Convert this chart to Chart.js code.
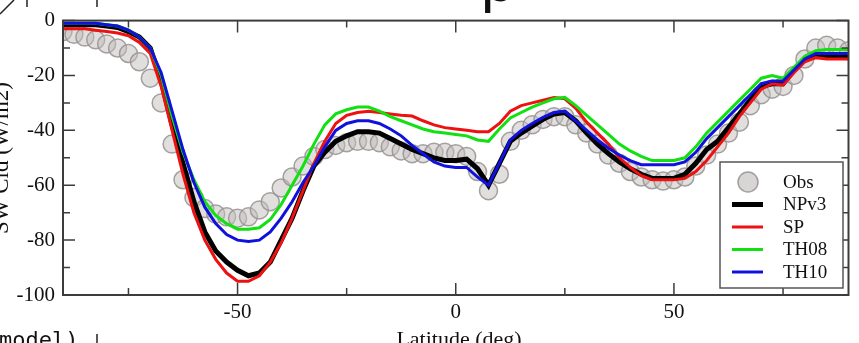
<!DOCTYPE html>
<html>
<head>
<meta charset="utf-8">
<style>
  html, body { margin: 0; padding: 0; background: #fff; }
  #wrap { position: relative; width: 859px; height: 343px; }
</style>
<script src="https://cdn.jsdelivr.net/npm/chart.js@4.4.0/dist/chart.umd.min.js"></script>
</head>
<body>
<div id="wrap"><canvas id="c" width="859" height="343"></canvas></div>
<script>
// latitudes (deg), 2.5 deg steps
const lat = [-90, -87.5, -85, -82.5, -80, -77.5, -75, -72.5, -70, -67.5, -65, -62.5, -60, -57.5, -55, -52.5,
  -50, -47.5, -45, -42.5, -40, -37.5, -35, -32.5, -30, -27.5, -25, -22.5, -20, -17.5, -15, -12.5,
  -10, -7.5, -5, -2.5, 0, 2.5, 5, 7.5, 10, 12.5, 15, 17.5, 20, 22.5, 25, 27.5,
  30, 32.5, 35, 37.5, 40, 42.5, 45, 47.5, 50, 52.5, 55, 57.5, 60, 62.5, 65, 67.5,
  70, 72.5, 75, 77.5, 80, 82.5, 85, 87.5, 90];

// SW cloud forcing (W/m2)
const obs = [-4, -5, -6, -7, -8.5, -10, -12, -15, -21, -30, -45, -58, -64.5, -68.5, -70.5, -71.5,
  -72, -71.5, -69, -66, -61, -57, -53, -49.5, -47, -45.5, -44.5, -44, -44, -44.5, -46, -47.5,
  -48.5, -48.5, -48, -48, -48.5, -49.5, -55, -62, -56, -44, -40, -38, -36, -35, -35, -38,
  -41, -45, -49, -52, -55, -57, -58, -58.5, -58, -57, -53, -49, -45, -41, -37, -31,
  -27, -25, -24, -20, -14, -10, -9, -10, -11];

const npv3 = [-1.5, -1.5, -1.5, -1.5, -2, -2.5, -4, -6, -10, -22, -38, -52, -66, -77, -84, -88,
  -91, -93, -92, -88, -80, -72, -62, -53, -48, -44, -42, -40.5, -40.5, -41, -43, -45,
  -47, -48.5, -50, -51, -51, -50.5, -54, -60, -52, -44, -41, -38.5, -36, -34, -33.5, -36.5,
  -41, -45, -48.5, -51.5, -54, -56, -57.5, -57.5, -57.5, -56, -52, -47, -44, -39, -34, -29,
  -24, -23, -23, -18, -14, -13, -13, -13, -13];

const sp = [-3, -3, -3, -3.5, -4, -4.5, -5.5, -8, -12, -24, -40, -56, -70, -80, -87, -92,
  -95, -95, -93, -88, -81, -72, -62, -52, -44, -37.5, -34.5, -33.5, -33, -33.5, -34, -34.5,
  -34.8, -36.5, -38, -39, -39.5, -40, -40.5, -40.5, -37.5, -33, -31, -30, -29, -28, -28.5, -32,
  -37, -41, -45, -50, -53.5, -56.5, -58, -58, -58, -57.5, -55, -51, -46, -41, -35, -30,
  -25, -23, -23.5, -19, -15, -13.5, -14, -14, -14];

const th08 = [-1, -1, -1, -1, -1.5, -2, -3.5, -6, -10, -20, -35, -48, -58, -66, -71, -74,
  -76, -76, -75.5, -72.5, -67, -60, -53, -45, -38, -34, -32.5, -31.5, -31.5, -33, -35, -36.5,
  -38, -39.5, -40.5, -41, -41.5, -42, -43.5, -44, -39.5, -35.5, -33.5, -31.5, -30, -28.5, -28, -31,
  -34.5, -38, -41.5, -45, -47.5, -49.5, -51, -51, -51, -50, -46, -41, -37, -33, -29, -25,
  -21, -20, -21, -17, -13, -11, -10.5, -10.5, -10.5];

const th10 = [-1, -1, -1, -1, -1.5, -2, -3.5, -6, -10, -19, -33, -47, -59, -68, -74, -78,
  -80, -80.5, -80, -77, -72, -66, -59, -53, -46, -40, -37.5, -36.5, -36.5, -37.5, -39.5, -42,
  -45.5, -48.5, -51.5, -53, -53.5, -53.5, -57, -60, -52, -43.5, -40, -37.5, -35.3, -33.5, -33, -36.5,
  -40, -43.5, -46.5, -49, -51, -52.5, -52.5, -52.5, -52.5, -51.5, -48, -43, -39, -35, -31, -27,
  -23, -22, -22, -18, -14, -12, -12, -12, -12];

const seriesNames = ['Obs', 'NPv3', 'SP', 'TH08', 'TH10'];
const xMajorTicks = [-50, 0, 50];
const xMinorTicks = [-75, -25, 25, 75];
const yMajorTicks = [0, -20, -40, -60, -80, -100];
const yMinorTicks = [-10, -30, -50, -70, -90];

const pts = arr => lat.map((x, i) => ({ x: x, y: arr[i] }));

const serif = "'Liberation Serif', 'DejaVu Serif', serif";

// frame, inward ticks, legend box and stray text
const decor = {
  id: 'decor',
  afterDraw(chart) {
    const ctx = chart.ctx;
    const a = chart.chartArea;
    const xs = chart.scales.x, ys = chart.scales.y;
    ctx.save();
    ctx.strokeStyle = '#3c3c3c';
    ctx.lineWidth = 2;
    ctx.strokeRect(a.left, a.top, a.right - a.left, a.bottom - a.top);

    ctx.lineWidth = 1.5;
    ctx.beginPath();
    const xt = (v, len) => {
      const p = xs.getPixelForValue(v);
      ctx.moveTo(p, a.bottom); ctx.lineTo(p, a.bottom - len);
      ctx.moveTo(p, a.top); ctx.lineTo(p, a.top + len);
    };
    const yt = (v, len) => {
      const p = ys.getPixelForValue(v);
      ctx.moveTo(a.left, p); ctx.lineTo(a.left + len, p);
      ctx.moveTo(a.right, p); ctx.lineTo(a.right - len, p);
    };
    xMajorTicks.forEach(v => xt(v, 12));
    xMinorTicks.forEach(v => xt(v, 7));
    yMajorTicks.forEach(v => yt(v, 12));
    yMinorTicks.forEach(v => yt(v, 7));
    ctx.stroke();

    // legend
    const lx = 720, ly = 162, lw = 123, lh = 126;
    ctx.fillStyle = '#fff';
    ctx.fillRect(lx, ly, lw, lh);
    ctx.strokeStyle = '#555';
    ctx.lineWidth = 1.5;
    ctx.strokeRect(lx, ly, lw, lh);
    ctx.font = '19px ' + serif;
    ctx.textBaseline = 'middle';
    ctx.textAlign = 'left';
    chart.data.datasets.forEach((ds, i) => {
      const cy = ly + 20 + i * 22.5;
      if (i === 0) {
        ctx.beginPath();
        ctx.arc(748, cy, 10, 0, Math.PI * 2);
        ctx.fillStyle = '#d8d5d5';
        ctx.fill();
        ctx.strokeStyle = ds.pointBorderColor;
        ctx.lineWidth = 1.5;
        ctx.stroke();
      } else {
        ctx.beginPath();
        ctx.moveTo(732, cy); ctx.lineTo(763, cy);
        ctx.strokeStyle = ds.borderColor;
        ctx.lineWidth = i === 1 ? 5 : 3;
        ctx.stroke();
      }
      ctx.fillStyle = '#111';
      ctx.fillText(ds.label, 783, cy + 1);
    });

    // axis titles (partly cut off in the source image)
    ctx.fillStyle = '#111';
    ctx.font = '22px ' + serif;
    ctx.textAlign = 'center';
    ctx.textBaseline = 'top';
    ctx.fillText('Latitude (deg)', 459, 329);
    ctx.save();
    ctx.translate(2, 158);
    ctx.rotate(-Math.PI / 2);
    ctx.textBaseline = 'middle';
    ctx.font = '23px ' + serif;
    ctx.fillText('SW Cld (W/m2)', 0, 0);
    ctx.restore();

    ctx.font = '22px "DejaVu Sans Mono", monospace';
    ctx.textAlign = 'left';
    ctx.textBaseline = 'top';
    ctx.fillText('model)', -1, 330);

    ctx.font = '60px "Liberation Sans", sans-serif';
    ctx.textBaseline = 'alphabetic';
    ctx.fillText('p', 481, 1);

    ctx.strokeStyle = '#222';
    ctx.lineWidth = 1.5;
    ctx.beginPath();
    ctx.moveTo(0, 14); ctx.lineTo(14, 0);
    ctx.moveTo(27, 0); ctx.lineTo(27, 7);
    ctx.moveTo(97, 0); ctx.lineTo(97, 7);
    ctx.moveTo(97, 334); ctx.lineTo(97, 343);
    ctx.stroke();
    ctx.restore();
  }
};

new Chart(document.getElementById('c'), {
  type: 'line',
  data: {
    datasets: [
      {
        label: seriesNames[0], data: pts(obs), showLine: false, order: 5,
        pointRadius: 9, pointBackgroundColor: 'rgba(196,190,190,0.5)',
        pointBorderColor: 'rgba(150,146,146,0.85)', pointBorderWidth: 1.5
      },
      { label: seriesNames[1], data: pts(npv3), borderColor: '#000000', borderWidth: 5, pointRadius: 0, order: 4 },
      { label: seriesNames[2], data: pts(sp), borderColor: '#ee1111', borderWidth: 3, pointRadius: 0, order: 3 },
      { label: seriesNames[3], data: pts(th08), borderColor: '#11e011', borderWidth: 3, pointRadius: 0, order: 2 },
      { label: seriesNames[4], data: pts(th10), borderColor: '#1111dd', borderWidth: 3, pointRadius: 0, order: 1 }
    ]
  },
  options: {
    responsive: false,
    animation: false,
    devicePixelRatio: 1,
    layout: { padding: { top: 17, right: 5, left: 0, bottom: 0 } },
    plugins: { legend: { display: false }, tooltip: { enabled: false } },
    scales: {
      x: {
        type: 'linear', min: -90, max: 90,
        afterBuildTicks: s => { s.ticks = xMajorTicks.map(v => ({ value: v })); },
        afterFit: s => { s.height = 48; },
        grid: { display: false, drawTicks: false },
        border: { display: false },
        ticks: { padding: 5, color: '#111', font: { family: serif, size: 21 } }
      },
      y: {
        type: 'linear', min: -100, max: 0,
        afterBuildTicks: s => { s.ticks = yMajorTicks.map(v => ({ value: v })); },
        afterFit: s => { s.width = 63; },
        grid: { display: false, drawTicks: false },
        border: { display: false },
        ticks: { padding: 8, color: '#111', font: { family: serif, size: 21 } }
      }
    }
  },
  plugins: [decor]
});
</script>
</body>
</html>
